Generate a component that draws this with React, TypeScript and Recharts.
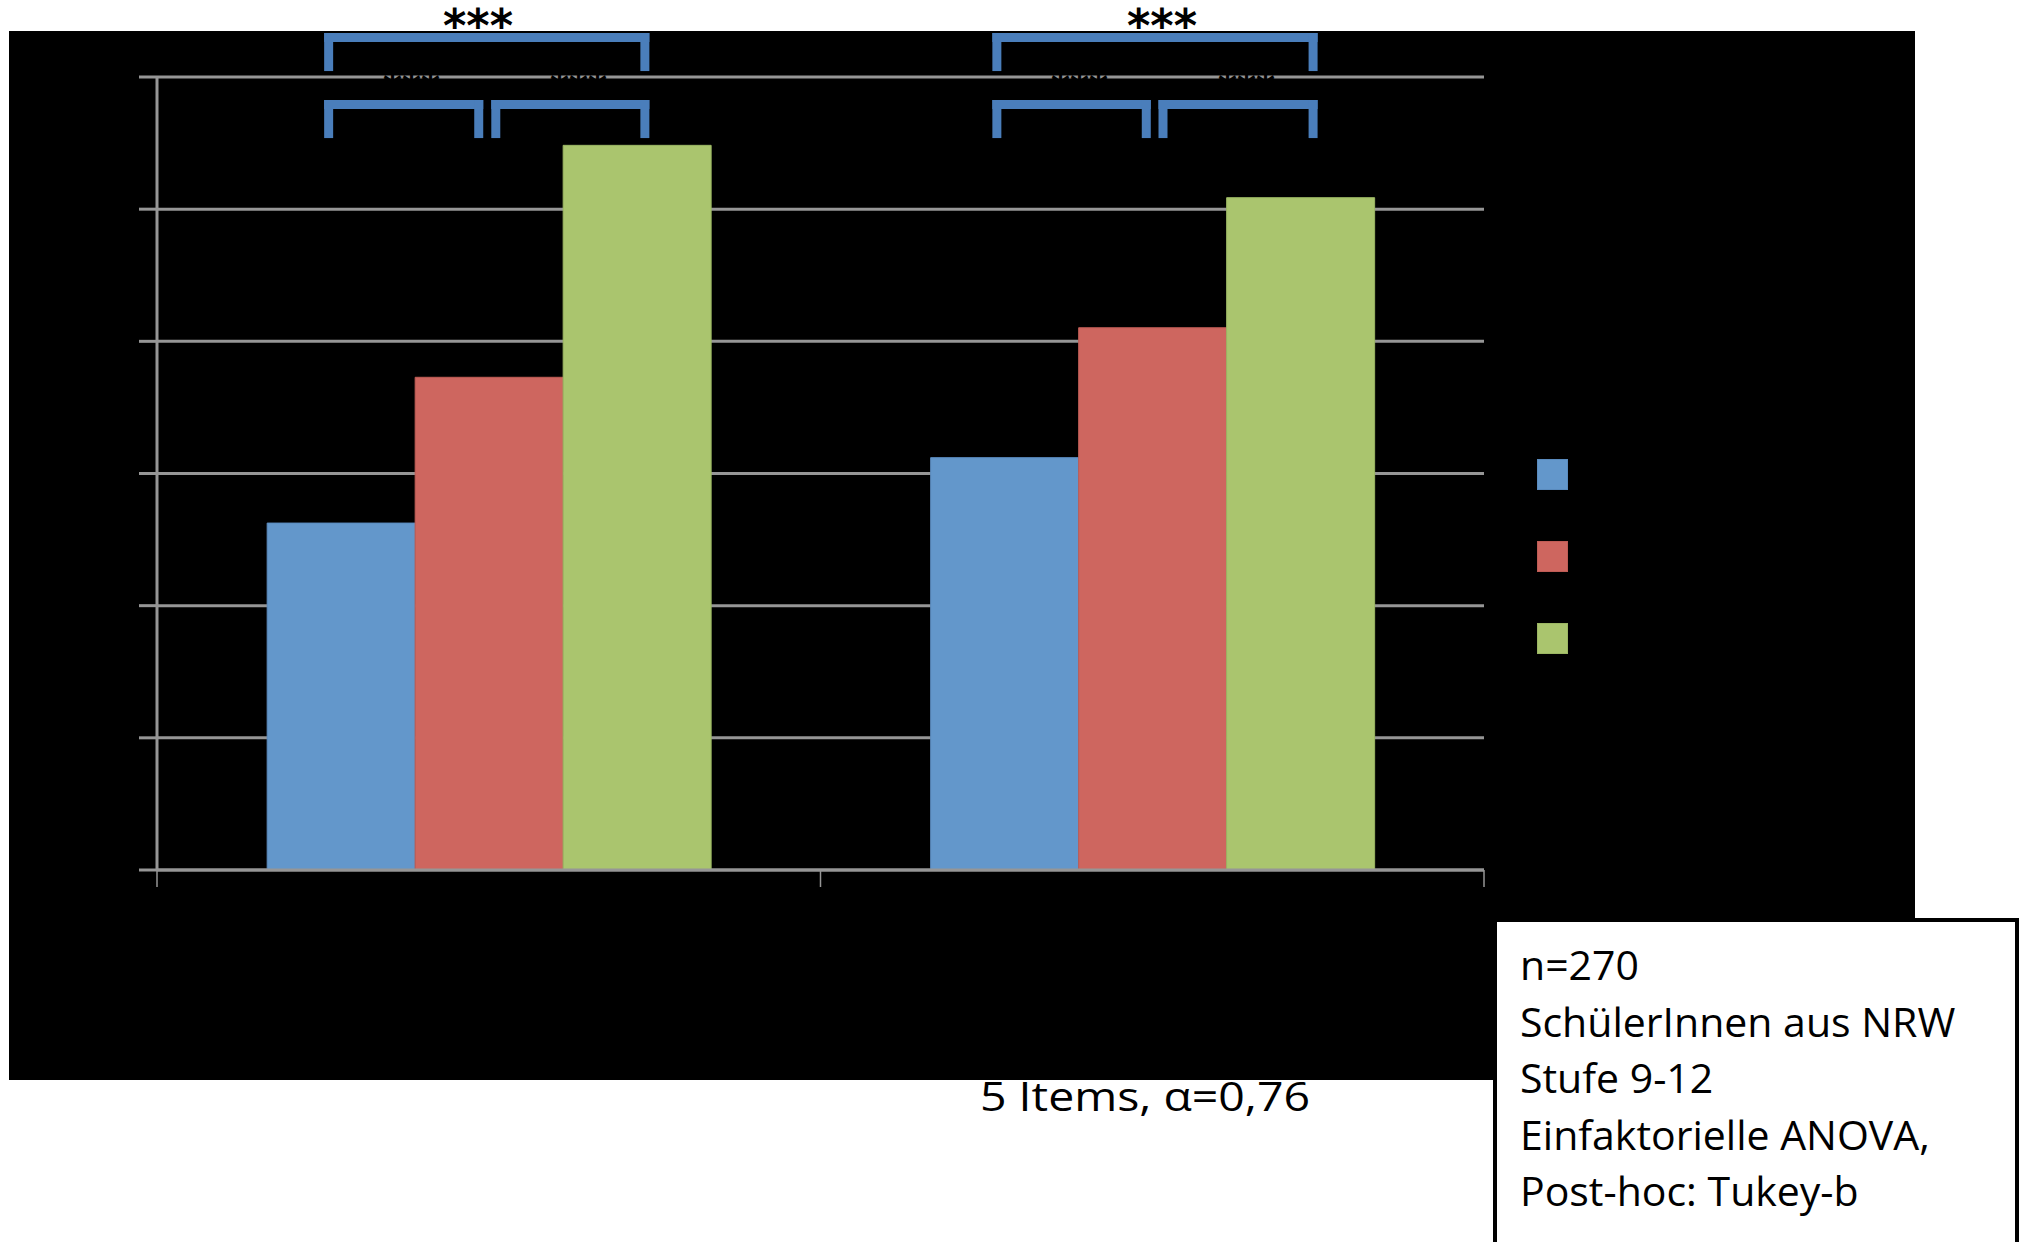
import React from 'react';
import { BarChart, Bar, XAxis, YAxis, CartesianGrid, Legend, ReferenceLine } from 'recharts';

// ---- data ----
const categories = ['Gruppe 1', 'Gruppe 2'];
const categoryPositions = [0.5, 1.5];
const seriesNames = ['Serie 1', 'Serie 2', 'Serie 3'];
const series1 = [2.625, 3.12];
const series2 = [3.728, 4.103];
const series3 = [5.483, 5.087];
const seriesColors = ['#6397CB', '#CE665F', '#AAC56E'];
const seriesStrokes = ['#5A8BBE', '#BE5C55', '#9BB663'];
const yTicks = [0, 1, 2, 3, 4, 5, 6];
const xTicks = [0, 1, 2];

// significance brackets (x in category units)
const bracketX1 = [0.2587, 0.2587, 0.5106, 1.2658, 1.2658, 1.5162];
const bracketX2 = [0.7353, 0.4849, 0.7353, 1.7424, 1.491, 1.7424];
const bracketLevel = ['outer', 'inner', 'inner', 'outer', 'inner', 'inner'];
const levelTop: Record<string, number> = { outer: 6.299, inner: 5.792 };
const levelLeg: Record<string, number> = { outer: 6.079, inner: 5.572 };

const sigLabels = ['***', '***'];
const noteLines = ['n=270', 'SchülerInnen aus NRW', 'Stufe 9-12', 'Einfaktorielle ANOVA,', 'Post-hoc: Tukey-b'];
const scaleNote = '5 Items, α=0,76';

const data = categories.map((c, i) => ({
  name: c,
  pos: categoryPositions[i],
  s1: series1[i],
  s2: series2[i],
  s3: series3[i],
}));

const GRID = '#969696';
const BRACKET = '#4A7EBB';

const NoTick = () => <g />;

const LegendSquares = (props: any) => {
  const payload = props.payload || [];
  return (
    <div style={{ display: 'flex', flexDirection: 'column' }}>
      {payload.map((p: any, i: number) => (
        <div
          key={i}
          style={{
            width: 29,
            height: 29,
            background: p.color,
            border: `1px solid ${seriesStrokes[i]}`,
            marginBottom: i < payload.length - 1 ? 51 : 0,
          }}
        />
      ))}
    </div>
  );
};

export default function App() {
  const refLines: React.ReactNode[] = [];
  bracketX1.forEach((x1, i) => {
    const x2 = bracketX2[i];
    const top = levelTop[bracketLevel[i]];
    const leg = levelLeg[bracketLevel[i]];
    const common = {
      stroke: BRACKET,
      strokeWidth: 9,
      strokeLinecap: 'square' as const,
      ifOverflow: 'visible' as const,
    };
    refLines.push(
      <ReferenceLine key={`l${i}`} {...common} segment={[{ x: x1, y: leg }, { x: x1, y: top }]} />,
      <ReferenceLine key={`t${i}`} {...common} segment={[{ x: x1, y: top }, { x: x2, y: top }]} />,
      <ReferenceLine key={`r${i}`} {...common} segment={[{ x: x2, y: top }, { x: x2, y: leg }]} />
    );
  });

  return (
    <div style={{ position: 'absolute', left: 0, top: 0, width: 2022, height: 1242, background: '#fff', overflow: 'hidden' }}>
      <div style={{ position: 'absolute', left: 9, top: 31, width: 1906, height: 1049, background: '#000' }} />
      <div style={{ position: 'absolute', left: 0, top: 0 }}>
        <BarChart
          width={2022}
          height={1242}
          data={data}
          margin={{ top: 77, right: 538, bottom: 370, left: 155 }}
          barCategoryGap="16.6%"
          barGap={0}
        >
          <CartesianGrid vertical={false} stroke={GRID} strokeWidth={3} />
          <XAxis
            type="number"
            dataKey="pos"
            domain={[0, 2]}
            ticks={xTicks}
            tick={NoTick}
            tickSize={17}
            height={2}
            allowDecimals
            axisLine={{ stroke: GRID, strokeWidth: 3 }}
            tickLine={{ stroke: GRID, strokeWidth: 1.5 }}
          />
          <YAxis
            type="number"
            domain={[0, 6]}
            ticks={yTicks}
            tick={NoTick}
            tickSize={18}
            width={2}
            axisLine={{ stroke: GRID, strokeWidth: 3 }}
            tickLine={{ stroke: GRID, strokeWidth: 3 }}
          />
          <Legend
            layout="horizontal"
            align="center"
            verticalAlign="middle"
            content={<LegendSquares />}
            wrapperStyle={{ left: 1537, top: 459, width: 'auto', height: 'auto' }}
          />
          <Bar dataKey="s1" name={seriesNames[0]} fill={seriesColors[0]} stroke={seriesStrokes[0]} strokeWidth={1} isAnimationActive={false} />
          <Bar dataKey="s2" name={seriesNames[1]} fill={seriesColors[1]} stroke={seriesStrokes[1]} strokeWidth={1} isAnimationActive={false} />
          <Bar dataKey="s3" name={seriesNames[2]} fill={seriesColors[2]} stroke={seriesStrokes[2]} strokeWidth={1} isAnimationActive={false} />
          {refLines}
        </BarChart>
      </div>
      <svg
        width={2022}
        height={1242}
        style={{ position: 'absolute', left: 0, top: 0, pointerEvents: 'none' }}
        fontFamily="'Open Sans', sans-serif"
      >
        <g fontFamily="'DejaVu Sans', sans-serif" fontSize={46} fontWeight="bold" fill="#000">
          <text x={443} y={42} textLength={70} lengthAdjust="spacingAndGlyphs">{sigLabels[0]}</text>
          <text x={1127} y={42} textLength={70} lengthAdjust="spacingAndGlyphs">{sigLabels[1]}</text>
          <text x={383} y={106} textLength={57} lengthAdjust="spacingAndGlyphs">***</text>
          <text x={550} y={106} textLength={57} lengthAdjust="spacingAndGlyphs">***</text>
          <text x={1051} y={106} textLength={57} lengthAdjust="spacingAndGlyphs">***</text>
          <text x={1218} y={106} textLength={57} lengthAdjust="spacingAndGlyphs">***</text>
        </g>
        <text x={980} y={1111} fontSize={41} fill="#000" textLength={330} lengthAdjust="spacingAndGlyphs">{scaleNote}</text>
        <rect x={1495} y={920} width={522} height={400} fill="#fff" stroke="#000" strokeWidth={4} />
        {noteLines.map((t, i) => (
          <text key={i} x={1520} y={980 + i * 56.5} fontSize={41} fill="#000">{t}</text>
        ))}
      </svg>
    </div>
  );
}
